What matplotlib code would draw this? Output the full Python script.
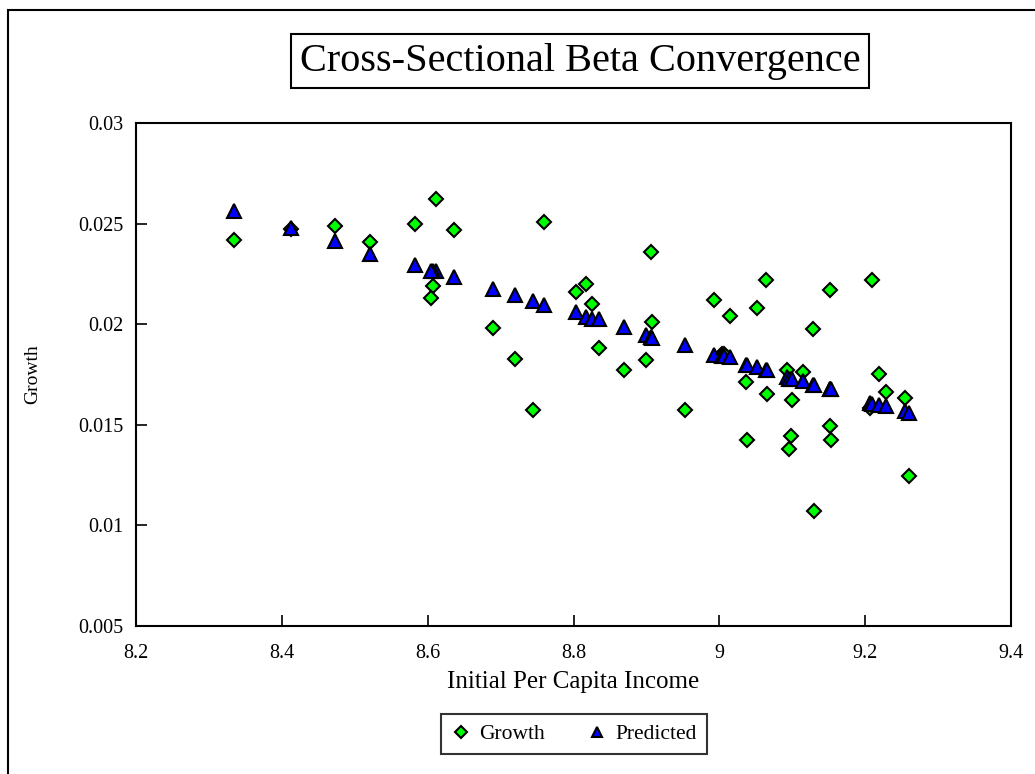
import matplotlib
matplotlib.use("Agg")
import matplotlib.pyplot as plt
from matplotlib.patches import Rectangle

plt.rcParams['font.family'] = ['Liberation Serif', 'DejaVu Serif']

# initial per capita income (log) for each state
income = [8.335, 8.412, 8.473, 8.521, 8.582, 8.611, 8.607, 8.605, 8.636, 8.689,
          8.720, 8.744, 8.760, 8.804, 8.817, 8.826, 8.835, 8.869, 8.900, 8.906,
          8.908, 8.953, 8.993, 9.004, 9.007, 9.015, 9.036, 9.038, 9.051, 9.064,
          9.066, 9.093, 9.098, 9.095, 9.100, 9.115, 9.128, 9.130, 9.152, 9.152,
          9.153, 9.207, 9.210, 9.219, 9.229, 9.254, 9.260]

# observed growth
growth = [0.02417, 0.02475, 0.02488, 0.02410, 0.02498, 0.02624, 0.02190, 0.02128, 0.02468, 0.01980,
          0.01829, 0.01574, 0.02507, 0.02159, 0.02200, 0.02100, 0.01880, 0.01771, 0.01822, 0.02357,
          0.02011, 0.01574, 0.02119, 0.01852, 0.01850, 0.02039, 0.01711, 0.01424, 0.02079, 0.02218,
          0.01652, 0.01772, 0.01446, 0.01381, 0.01622, 0.01764, 0.01978, 0.01070, 0.02168, 0.01494,
          0.01423, 0.01582, 0.02218, 0.01751, 0.01663, 0.01633, 0.01244]

# predicted growth
predicted = [0.02563, 0.02478, 0.02415, 0.02350, 0.02294, 0.02262, 0.02264, 0.02266, 0.02235, 0.02173,
             0.02147, 0.02115, 0.02097, 0.02059, 0.02037, 0.02026, 0.02024, 0.01988, 0.01945, 0.01935,
             0.01933, 0.01897, 0.01847, 0.01843, 0.01840, 0.01835, 0.01798, 0.01796, 0.01789, 0.01773,
             0.01771, 0.01739, 0.01728, 0.01730, 0.01726, 0.01720, 0.01698, 0.01696, 0.01680, 0.01679,
             0.01678, 0.01607, 0.01603, 0.01598, 0.01593, 0.01570, 0.01560]

xticks = [8.2, 8.4, 8.6, 8.8, 9, 9.2, 9.4]
xticklabels = ['8.2', '8.4', '8.6', '8.8', '9', '9.2', '9.4']
yticks = [0.005, 0.01, 0.015, 0.02, 0.025, 0.03]
yticklabels = ['0.005', '0.01', '0.015', '0.02', '0.025', '0.03']

fig = plt.figure(figsize=(10.35, 7.74), dpi=100)

# outer frame of the chart (right and bottom edges fall off the picture)
fig.patches.append(Rectangle((8 / 1035, -0.02), 1.1, 1 - 10 / 774 + 0.02,
                             transform=fig.transFigure, fill=False,
                             edgecolor='black', linewidth=1.5))

ax = fig.add_axes([136 / 1035, 1 - 626 / 774, 875 / 1035, 503 / 774])

ax.plot(income, growth, linestyle='none', marker='D', markersize=7.5,
        markerfacecolor='#00ff00', markeredgecolor='black', markeredgewidth=1.5,
        label='Growth', zorder=3)
ax.plot(income, predicted, linestyle='none', marker='^', markersize=9.5,
        markerfacecolor='#0000ff', markeredgecolor='black', markeredgewidth=1.5,
        label='Predicted', zorder=4)

ax.set_xlim(8.2, 9.4)
ax.set_ylim(0.005, 0.03)
ax.set_xticks(xticks)
ax.set_xticklabels(xticklabels)
ax.set_yticks(yticks)
ax.set_yticklabels(yticklabels)
ax.tick_params(direction='in', length=8, width=1.2, labelsize=14.5)
ax.tick_params(axis='y', pad=9)
ax.tick_params(axis='x', pad=13)
for s in ax.spines.values():
    s.set_linewidth(1.5)

ax.set_xlabel('Initial Per Capita Income', fontsize=18)
ax.xaxis.set_label_coords(0.5, -0.09)
ax.set_ylabel('Growth', fontsize=14)
ax.yaxis.set_label_coords(-0.108, 0.5)

fig.text(580 / 1035, 1 - 61 / 774, 'Cross-Sectional Beta Convergence',
         fontsize=29, ha='center', va='center',
         bbox=dict(boxstyle='square,pad=0.22', facecolor='white',
                   edgecolor='black', linewidth=1.5))

leg = fig.legend(loc='center', bbox_to_anchor=(574 / 1035, 1 - 734 / 774),
                 ncol=2, fontsize=15.5, frameon=True, fancybox=False,
                 edgecolor='black', markerscale=0.75, handlelength=0.9,
                 handletextpad=0.4, columnspacing=2.0, borderpad=0.45,
                 borderaxespad=0)
leg.get_frame().set_linewidth(1.5)

fig.savefig('out.png', dpi=100)
